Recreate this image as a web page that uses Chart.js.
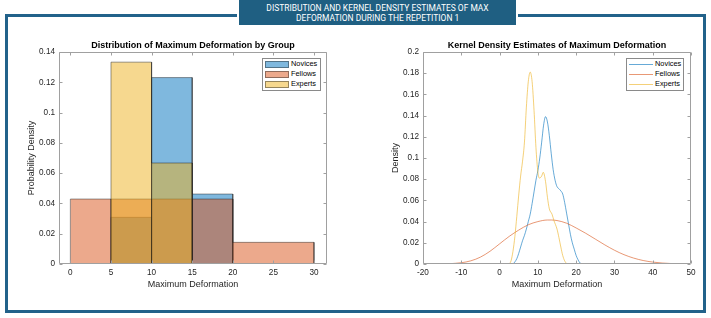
<!DOCTYPE html>
<html><head><meta charset="utf-8">
<script src="https://cdn.jsdelivr.net/npm/chart.js@4.4.1/dist/chart.umd.min.js"></script>
<style>
html,body{margin:0;padding:0;background:#fff;}
body{width:711px;height:318px;position:relative;overflow:hidden;font-family:"Liberation Sans",Arial,sans-serif;}
#frame{position:absolute;left:5px;top:14px;width:695px;height:293px;border:3px solid #22628a;}
#ttlw{position:absolute;left:237px;top:0;width:281px;height:26px;background:#fff;}
#ttl{position:absolute;left:2px;top:0;width:277px;height:25px;background:#1f5f82;color:#fff;font-family:Roboto,"Liberation Sans",sans-serif;font-size:9.4px;line-height:10px;text-align:center;padding-top:3px;box-sizing:border-box;}
#ttl span{display:inline-block;white-space:nowrap;transform:scaleX(0.9);transform-origin:center;}
canvas{position:absolute;top:0;}
#c1{left:0;} #c2{left:355px;}
.lg{position:absolute;background:#fff;border:1px solid #8a8a8a;box-sizing:border-box;font-family:"Liberation Sans",Arial,sans-serif;font-size:7.4px;color:#000;}
.lg .sw{position:absolute;box-sizing:border-box;}
.lg .tx{position:absolute;line-height:10px;white-space:nowrap;}
</style></head>
<body>
<div id="frame"></div>
<div id="ttlw"><div id="ttl"><span>DISTRIBUTION AND KERNEL DENSITY ESTIMATES OF MAX</span><br><span>DEFORMATION DURING THE REPETITION 1</span></div></div>
<canvas id="c1" width="360" height="318"></canvas>
<canvas id="c2" width="356" height="318"></canvas>
<div id="lg1" class="lg" style="left:262px;top:58px;width:59px;height:33px;"></div>
<div id="lg2" class="lg" style="left:626px;top:58px;width:58px;height:33px;"></div>
<script>
// ---------- data ----------
const groups = ['Novices', 'Fellows', 'Experts'];

// histogram (probability density), bin edges and bar heights
const novicesBinEdges = [5, 10, 15, 20];
const novicesDensity  = [0.0308, 0.1231, 0.0462];
const fellowsBinEdges = [0, 5, 10, 15, 20, 30];
const fellowsDensity  = [0.0429, 0.0429, 0.0429, 0.0429, 0.0143];
const expertsBinEdges = [5, 10, 15];
const expertsDensity  = [0.1333, 0.0667];

// kernel density estimates
const novicesKdeX = [3.5,4,4.5,5,5.5,6,6.5,7,7.5,8,8.5,9,9.5,10,10.5,11,11.5,12,12.5,13,13.5,14,14.5,15,15.5,16,16.5,17,17.5,18,18.5,19,19.5,20,20.5,21,21.5];
const novicesKdeY = [0,0.002,0.005,0.01,0.016,0.022,0.027,0.033,0.04,0.047,0.057,0.068,0.079,0.088,0.1,0.115,0.131,0.139,0.134,0.121,0.104,0.089,0.079,0.073,0.071,0.069,0.066,0.058,0.048,0.038,0.028,0.02,0.014,0.008,0.004,0.001,0];
const fellowsKdeX = [-13,-10,-7.5,-5,-2.5,0,2.5,5,7.5,10,12.5,13.5,15,17.5,20,22.5,25,27.5,30,32.5,35,37.5,40,42.5,45,47.5,49];
const fellowsKdeY = [0.0003,0.0012,0.003,0.0065,0.012,0.019,0.026,0.032,0.037,0.04,0.0415,0.0415,0.041,0.0385,0.034,0.029,0.0235,0.018,0.013,0.0088,0.0056,0.0033,0.0018,0.0009,0.0004,0.0001,0];
const expertsKdeX = [2.5,3,3.5,4,4.5,5,5.5,6,6.5,7,7.5,8,8.5,9,9.5,10,10.4,11,11.4,12,12.5,13,13.7,14.2,15,15.5,16,16.5,17,17.6];
const expertsKdeY = [0,0.003,0.012,0.026,0.045,0.065,0.083,0.097,0.115,0.148,0.172,0.181,0.172,0.145,0.11,0.087,0.081,0.083,0.0865,0.078,0.063,0.052,0.047,0.041,0.033,0.025,0.016,0.008,0.003,0];

// tick values
const histXTicks = [0, 5, 10, 15, 20, 25, 30];
const histYTicks = [0, 0.02, 0.04, 0.06, 0.08, 0.1, 0.12, 0.14];
const kdeXTicks  = [-20, -10, 0, 10, 20, 30, 40, 50];
const kdeYTicks  = [0, 0.02, 0.04, 0.06, 0.08, 0.1, 0.12, 0.14, 0.16, 0.18, 0.2];

// ---------- styles ----------
const rgb = [[0,114,189],[217,83,25],[237,177,32]];
const faceAlpha = 0.5;
const lineAlpha = 0.6;
const EDGE = 'rgba(30,30,30,0.45)';
const AXIS = '#a0a0a0';
const TXT = '#262626';
const FONT = '"Liberation Sans", Arial, sans-serif';
Chart.defaults.font.family = FONT;
Chart.defaults.color = TXT;

function stepOutline(edges, dens) {
  const pts = [];
  for (let i = 0; i < dens.length; i++) {
    pts.push({x: edges[i], y: 0}, {x: edges[i], y: dens[i]}, {x: edges[i + 1], y: dens[i]}, {x: edges[i + 1], y: 0});
  }
  return pts;
}
function zip(xs, ys) { return xs.map((x, i) => ({x, y: ys[i]})); }
const fmt = v => String(Number(Number(v).toFixed(4)));
const rgba = (c, a) => `rgba(${c[0]},${c[1]},${c[2]},${a})`;

const boxTicks = {
  id: 'boxTicks',
  afterDatasetsDraw(chart) {
    const {ctx, chartArea: a, scales} = chart;
    const L = Math.round(a.left) + 0.5, R = Math.round(a.right) - 0.5;
    const T = Math.round(a.top) + 0.5, B = Math.round(a.bottom) - 0.5;
    ctx.save();
    ctx.strokeStyle = AXIS; ctx.lineWidth = 1;
    ctx.beginPath();
    ctx.rect(L, T, R - L, B - T);
    const tl = 3;
    scales.x.ticks.forEach(t => {
      const p = Math.round(scales.x.getPixelForValue(t.value)) + 0.5;
      ctx.moveTo(p, B); ctx.lineTo(p, B - tl);
      ctx.moveTo(p, T); ctx.lineTo(p, T + tl);
    });
    scales.y.ticks.forEach(t => {
      const p = Math.round(scales.y.getPixelForValue(t.value)) + 0.5;
      ctx.moveTo(L, p); ctx.lineTo(L + tl, p);
      ctx.moveTo(R, p); ctx.lineTo(R - tl, p);
    });
    ctx.stroke();
    ctx.restore();
  }
};

function makeScales(xmin, xmax, xticks, ymin, ymax, yticks, xtitle, ytitle, ttl) {
  return {
    x: {
      type: 'linear', min: xmin, max: xmax,
      afterBuildTicks: s => { s.ticks = xticks.map(v => ({value: v})); },
      afterFit: s => { s.height = 54; },
      grid: {display: false, drawTicks: false}, border: {display: false},
      ticks: {padding: 4, font: {size: 8.2}, color: TXT, callback: fmt, maxRotation: 0, autoSkip: false},
      title: {display: true, text: xtitle, font: {size: 9}, color: TXT, padding: {top: 0, bottom: 28}}
    },
    y: {
      type: 'linear', min: ymin, max: ymax,
      afterBuildTicks: s => { s.ticks = yticks.map(v => ({value: v})); },
      afterFit: s => { s.width = 40; },
      grid: {display: false, drawTicks: false}, border: {display: false},
      ticks: {padding: 4, font: {size: 8.2}, color: TXT, callback: fmt, autoSkip: false},
      title: {display: true, text: ytitle, font: {size: 9}, color: TXT, padding: {top: 7.6, bottom: 0}}
    },
    xTop: {
      type: 'linear', position: 'top', display: true,
      afterFit: s => { s.height = 52; },
      grid: {display: false, drawTicks: false}, border: {display: false},
      ticks: {display: false},
      title: {display: true, text: ttl, font: {size: 9, weight: 'bold'}, color: '#000', padding: {top: 40, bottom: 0}}
    }
  };
}

const baseOpts = {
  responsive: false, animation: false, devicePixelRatio: 1,
  plugins: {legend: {display: false}, tooltip: {enabled: false}, title: {display: false}},
  elements: {point: {radius: 0, hoverRadius: 0}}
};

// ---------- histogram chart ----------
const histEdges = [novicesBinEdges, fellowsBinEdges, expertsBinEdges];
const histDens = [novicesDensity, fellowsDensity, expertsDensity];
new Chart(document.getElementById('c1'), {
  type: 'scatter',
  data: {
    datasets: groups.map((g, i) => ({
      label: g,
      data: stepOutline(histEdges[i], histDens[i]),
      showLine: true, fill: 'origin', tension: 0,
      backgroundColor: rgba(rgb[i], faceAlpha),
      borderColor: EDGE, borderWidth: 1,
      pointRadius: 0, order: 3 - i
    }))
  },
  options: Object.assign({}, baseOpts, {
    layout: {padding: {left: 19, right: 33, top: 0, bottom: 0}},
    scales: makeScales(-1.4, 31.6, histXTicks, 0, 0.14, histYTicks, 'Maximum Deformation', 'Probability Density', 'Distribution of Maximum Deformation by Group')
  }),
  plugins: [boxTicks]
});

// ---------- KDE chart ----------
const kdeX = [novicesKdeX, fellowsKdeX, expertsKdeX];
const kdeY = [novicesKdeY, fellowsKdeY, expertsKdeY];
new Chart(document.getElementById('c2'), {
  type: 'scatter',
  data: {
    datasets: groups.map((g, i) => ({
      label: g,
      data: zip(kdeX[i], kdeY[i]),
      showLine: true, fill: false, cubicInterpolationMode: 'monotone',
      borderColor: rgba(rgb[i], lineAlpha), borderWidth: 1,
      pointRadius: 0, order: 3 - i
    }))
  },
  options: Object.assign({}, baseOpts, {
    layout: {padding: {left: 28, right: 20, top: 0, bottom: 0}},
    scales: makeScales(-20, 50, kdeXTicks, 0, 0.2, kdeYTicks, 'Maximum Deformation', 'Density', 'Kernel Density Estimates of Maximum Deformation')
  }),
  plugins: [boxTicks]
});

// ---------- legends ----------
function buildLegend(id, kind) {
  const el = document.getElementById(id);
  groups.forEach((g, i) => {
    const cy = 5.3 + 10 * i;
    const sw = document.createElement('div');
    sw.className = 'sw';
    if (kind === 'patch') {
      Object.assign(sw.style, {left: '2px', top: (cy - 3.5) + 'px', width: '24px', height: '7px',
        background: rgba(rgb[i], faceAlpha), border: '1px solid ' + EDGE});
    } else {
      Object.assign(sw.style, {left: '2px', top: (cy - 0.5) + 'px', width: '24px', height: '1px',
        background: rgba(rgb[i], lineAlpha)});
    }
    const tx = document.createElement('div');
    tx.className = 'tx';
    tx.textContent = g;
    Object.assign(tx.style, {left: '28px', top: (cy - 5) + 'px'});
    el.appendChild(sw); el.appendChild(tx);
  });
}
buildLegend('lg1', 'patch');
buildLegend('lg2', 'line');
</script>
</body></html>
